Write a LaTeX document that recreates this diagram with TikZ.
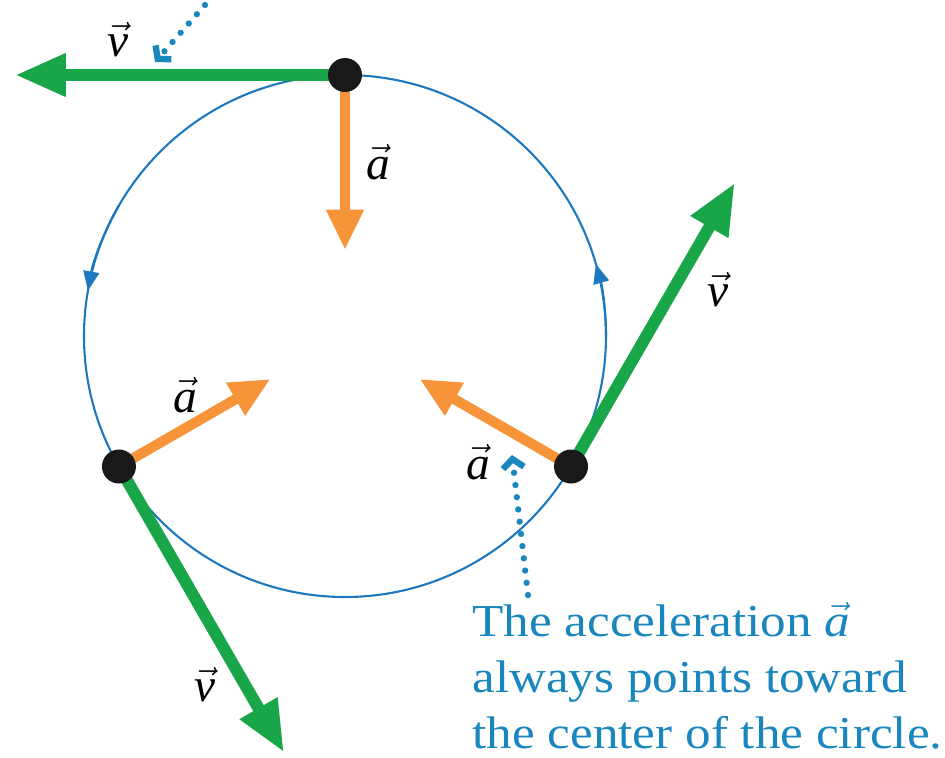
\documentclass[tikz,border=0pt]{standalone}
\usepackage{fontspec}
\setmainfont{Liberation Serif}
\newfontfamily\notefont{Liberation Serif}[FakeStretch=1.12]
\usetikzlibrary{arrows.meta,calc}
\definecolor{velgreen}{RGB}{24,166,72}
\definecolor{accorange}{RGB}{247,148,58}
\definecolor{orbitblue}{RGB}{30,120,190}
\definecolor{noteblue}{RGB}{25,135,190}
\newcommand{\arrowvec}[1]{$\vec{\textit{#1}}$}

\begin{document}
\begin{tikzpicture}[
        vel/.style={velgreen, line width=6.8pt, -{Triangle[width=23pt,length=29pt]}},
        acc/.style={accorange, line width=5.8pt, -{Triangle[width=20pt,length=23pt]}},
        orbit/.style={orbitblue, line width=1.2pt},
        hint/.style={noteblue, line width=3.6pt, line cap=round, dash pattern=on 0pt off 7pt, -{Straight Barb[length=5pt,width=12pt]}},
        dot/.style={circle, fill=black!90, minimum size=0.68cm, inner sep=0pt},
        lbl/.style={font=\fontsize{27}{30}\selectfont, inner sep=0pt}]
        \useasboundingbox (-6.9,-8.42) rectangle (12.0,6.72);
        \coordinate (O) at (0,0);
        % path of the particle
        \draw[orbit] (O) circle (5.22);
        \draw[orbit, -{Triangle[length=11pt,width=9pt]}] (150:5.22) arc (150:170:5.22);
        \draw[orbit, -{Triangle[length=11pt,width=9pt]}] (0:5.22) arc (0:16:5.22);
        % three positions
        \coordinate (top) at (90:5.22);
        \coordinate (left) at (210:5.22);
        \coordinate (right) at (330:5.22);
        \coordinate (vtop) at ($(top)+(180:6.6)$);
        \coordinate (vleft) at ($(left)+(300:6.6)$);
        \coordinate (vright) at ($(right)+(60:6.55)$);
        \coordinate (atop) at ($(top)!3.5cm!(O)$);
        \coordinate (aleft) at ($(left)!3.5cm!(O)$);
        \coordinate (aright) at ($(right)!3.5cm!(O)$);
        \draw[vel] (top) -- (vtop);
        \draw[vel] (left) -- (vleft);
        \draw[vel] (right) -- (vright);
        \draw[acc] (top) -- (atop);
        \draw[acc] (left) -- (aleft);
        \draw[acc] (right) -- (aright);
        \node[dot] (ptop) at (top) {};
        \node[dot] (pleft) at (left) {};
        \node[dot] (pright) at (right) {};
        % labels
        \node[lbl] (vtoplbl) at (-4.54,5.92) {\arrowvec{v}};
        \node[lbl] (atoplbl) at (0.66,3.48) {\arrowvec{a}};
        \node[lbl] (vrightlbl) at (7.46,0.92) {\arrowvec{v}};
        \node[lbl] (aleftlbl) at (-3.2,-1.18) {\arrowvec{a}};
        \node[lbl] (arightlbl) at (2.66,-2.52) {\arrowvec{a}};
        \node[lbl] (vleftlbl) at (-2.8,-6.98) {\arrowvec{v}};
        \node[noteblue, anchor=north west, align=left, inner sep=0pt, font=\notefont\fontsize{26}{32}\selectfont] (note) at (2.54,-5.32)
            {The acceleration \arrowvec{a}\\always points toward\\the center of the circle.};
        % dotted pointers
        \coordinate (hintA) at (-2.8,6.62);
        \coordinate (hintAend) at (-3.8,5.48);
        \coordinate (hintB) at ($(note.north west)+(1.12,0.14)$);
        \coordinate (hintBend) at (3.34,-2.38);
        \draw[hint] (hintA) -- (hintAend);
        \draw[hint] (hintB) -- (hintBend);
    \end{tikzpicture}
\end{document}
